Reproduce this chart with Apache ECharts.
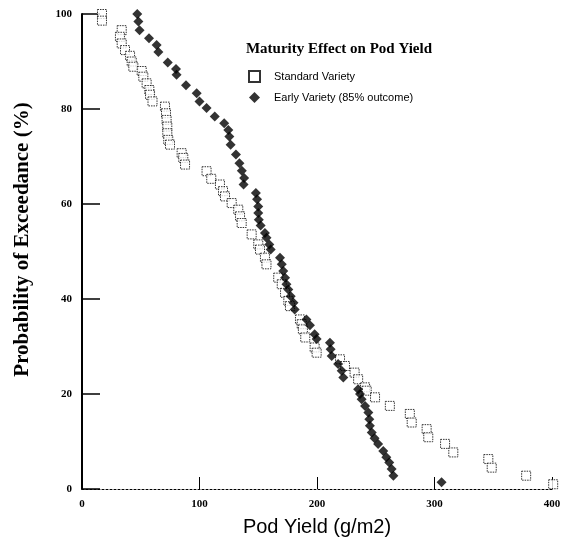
<!DOCTYPE html>
<html>
<head>
<meta charset="utf-8">
<script src="https://cdn.jsdelivr.net/npm/echarts@6/dist/echarts.min.js"></script>
<style>html,body{margin:0;padding:0;background:#fff;}#c{width:567px;height:542px;}</style>
</head>
<body>
<div id="c"></div>
<script>
const chartTitle = "Maturity Effect on Pod Yield";
const seriesNames = ["Standard Variety", "Early Variety (85% outcome)"];
const xTicks = [0, 100, 200, 300, 400];
const yTicks = [0, 20, 40, 60, 80, 100];

const standardYield = [17,17,33.8,32.3,33.8,36.6,40.9,42.3,43.7,50.8,52.2,55,57.3,57.9,60,70.6,71.5,72,72.6,72.6,73.4,74.9,84.8,86.2,87.7,106,110,117.4,120,121.7,127.4,133,134.5,135.9,144.4,150,151.5,155.7,157,167,170,172.8,175.6,177,185.5,187,188,190,198,199.7,219.6,223.8,232,235,240.9,242.3,249.4,262,279,280.6,293.3,294.7,309,316,345.8,348.7,378,401];
const standardProb = [100,98.6,96.6,95.2,93.8,92.4,91.2,90,88.9,88,86.8,85.4,84,83,81.6,80.5,79.1,77.7,76.3,74.9,73.5,72.5,70.7,69.7,68.3,66.9,65.3,64.1,62.7,61.6,60.2,58.8,57.4,56,53.6,51.5,50.4,48.7,47.3,44.5,43.1,41.3,39.6,38.5,35.7,34.7,33.6,31.9,29.8,28.7,27.3,25.9,24.5,23.1,21.4,20.7,19.3,17.5,15.8,14,12.6,10.9,9.5,7.7,6.3,4.5,2.8,1];

const earlyYield = [47,48,49,57,63.5,65,73,80,80.5,88.5,97.6,100,106,113,121,124.5,125.4,126.5,131,134,136,138,137.5,148,149,150,150,150.5,152,155.7,157,159.4,160.6,168.5,170,171.3,172.8,174,175.6,177.6,180,181,191,194,198,199.7,211,211.6,212.5,218,221,222.4,235,236.6,238,240.9,243.7,244.5,245,246.6,249,252,256.4,259,261.5,263.5,265,306];
const earlyProb = [100,98.4,96.6,94.9,93.5,92,89.8,88.4,87.2,85,83.3,81.6,80.2,78.4,77,75.6,74.2,72.5,70.4,68.6,67,65.5,64.1,62.3,61,59.5,58.1,56.7,55.5,53.9,52.9,51.5,50.4,48.7,47.3,45.9,44.5,43.1,42,40.6,39.2,37.8,35.7,34.5,32.6,31.6,30.8,29.4,28,26.3,24.9,23.5,21,20,18.9,17.5,16.1,14.7,13.3,11.9,10.7,9.5,8,6.7,5.6,4.2,2.8,1.4];

const standardData = standardYield.map((v, i) => [v, standardProb[i]]);
const earlyData = earlyYield.map((v, i) => [v, earlyProb[i]]);

const chart = echarts.init(document.getElementById('c'), null, {renderer: 'canvas'});
chart.setOption({
  animation: false,
  backgroundColor: '#ffffff',
  title: {
    text: chartTitle,
    left: 334,
    top: 37,
    textAlign: 'center',
    textStyle: {fontFamily: 'Liberation Serif, serif', fontSize: 15, fontWeight: 'bold', color: '#000'}
  },
  legend: {
    orient: 'vertical',
    left: 243,
    top: 65,
    itemWidth: 11,
    itemHeight: 11,
    itemGap: 9,
    textStyle: {fontFamily: 'Liberation Sans, sans-serif', fontSize: 11, color: '#000', padding: [0, 0, 0, 9]},
    data: seriesNames
  },
  grid: {left: 82, right: 15, top: 14, bottom: 52, containLabel: false},
  xAxis: {
    type: 'value',
    min: xTicks[0], max: xTicks[xTicks.length - 1], interval: 100,
    name: 'Pod Yield (g/m2)',
    nameLocation: 'middle',
    nameGap: 28,
    nameTextStyle: {fontFamily: 'Liberation Sans, sans-serif', fontSize: 20, color: '#000'},
    axisLine: {lineStyle: {color: '#000', width: 1, type: [2, 2]}},
    axisTick: {inside: true, length: 12, lineStyle: {color: '#000'}},
    axisLabel: {fontFamily: 'Liberation Serif, serif', fontSize: 11, fontWeight: 'bold', color: '#000', margin: 10},
    splitLine: {show: false}
  },
  yAxis: {
    type: 'value',
    min: yTicks[0], max: yTicks[yTicks.length - 1], interval: 20,
    name: 'Probability of Exceedance (%)',
    nameLocation: 'middle',
    nameGap: 49,
    nameTextStyle: {fontFamily: 'Liberation Serif, serif', fontSize: 21, fontWeight: 'bold', color: '#000', padding: [0, 0, 0, 24]},
    axisLine: {lineStyle: {color: '#000', width: 2}},
    axisTick: {inside: true, length: 18, lineStyle: {color: '#000', width: 1.5}},
    axisLabel: {fontFamily: 'Liberation Serif, serif', fontSize: 11, fontWeight: 'bold', color: '#000', margin: 10},
    splitLine: {show: false}
  },
  series: [
    {
      name: seriesNames[0],
      type: 'scatter',
      data: standardData,
      symbol: 'rect',
      symbolSize: 9,
      clip: false,
      itemStyle: {color: '#fff', borderColor: '#000', borderWidth: 1, borderType: [1.5, 1]},
      z: 2
    },
    {
      name: seriesNames[1],
      type: 'scatter',
      data: earlyData,
      symbol: 'diamond',
      symbolSize: 10,
      clip: false,
      itemStyle: {color: '#000'},
      z: 3
    }
  ]
});
</script>
</body>
</html>
